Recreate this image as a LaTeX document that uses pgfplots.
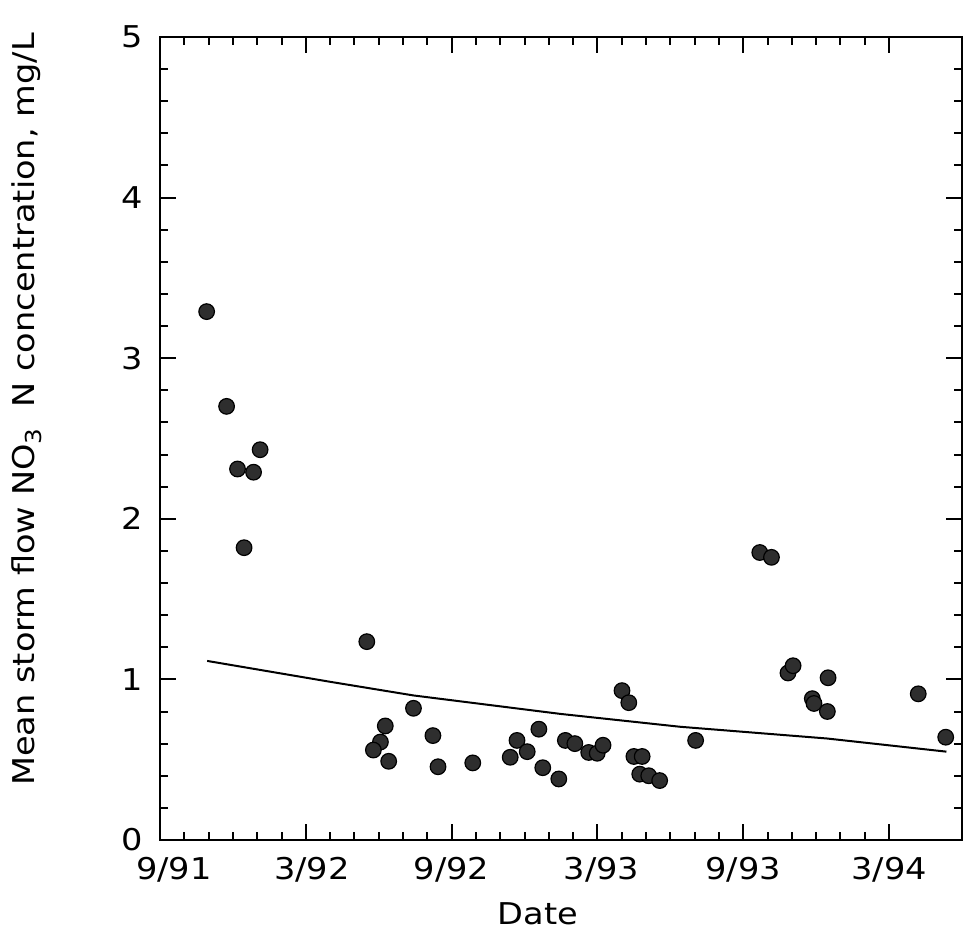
\documentclass[border=0pt]{standalone}
\usepackage{fontspec}
\setmainfont{DejaVu Sans}[FakeStretch=1.12]
\usepackage{pgfplots}
\pgfplotsset{compat=1.18}

\newcommand{\lblfont}{\fontsize{15}{18}\selectfont}

\begin{document}
\begin{tikzpicture}
\begin{axis}[
    name=ax,
    scale only axis,
    width=401pt, height=401.5pt,
    xmin=0, xmax=33,
    ymin=0, ymax=5,
    axis line style={line width=1.1pt},
    xtick={0,6,12,18,24,30},
    xticklabels={\hspace*{14pt}9/91,\hspace*{6pt}3/92,9/92,\hspace*{4pt}3/93,9/93,3/94},
    minor x tick num=5,
    ytick={0,1,2,3,4,5},
    minor y tick num=4,
    tick align=inside,
    major tick length=8pt,
    minor tick length=4pt,
    every tick/.style={line width=1pt, black},
    /pgf/number format/assume math mode=true,
    tick label style={font=\lblfont},
    yticklabel style={xshift=-5pt},
    xticklabel style={yshift=-5pt},
    xlabel={Date},
    xlabel style={font=\lblfont, at={(axis description cs:0.471,-0.092)}, anchor=center},
    ylabel={Mean storm flow NO\raisebox{-0.45ex}{\fontsize{11}{11}\selectfont 3}\ \ N concentration, mg/L},
    ylabel style={font=\lblfont, at={(axis description cs:-0.166,0.536)}, anchor=center},
    clip=false,
]
% fitted trend line
\addplot[line width=1pt, black] coordinates {
    (1.94,1.115) (7.00,0.985) (10.43,0.900) (16.48,0.785)
    (21.40,0.705) (27.44,0.632) (32.36,0.550)
};
% storm flow observations
\addplot[only marks, mark=*, mark size=3.9pt,
         mark options={fill=black!82, draw=black, line width=0.6pt}]
    coordinates {
    (1.92,3.29) (2.74,2.70) (3.19,2.31) (3.85,2.29) (4.12,2.43) (3.46,1.82)
    (8.51,1.235) (10.43,0.82) (9.27,0.71) (9.07,0.61) (8.78,0.56) (9.41,0.49)
    (11.23,0.65) (11.44,0.456) (12.87,0.48) (14.41,0.515) (14.69,0.62)
    (15.11,0.55) (15.59,0.69) (15.75,0.45) (16.41,0.38) (16.68,0.62)
    (17.07,0.60) (17.64,0.545) (17.99,0.54) (18.23,0.59) (19.01,0.93)
    (19.29,0.855) (19.50,0.52) (19.84,0.52) (19.74,0.41) (20.11,0.40)
    (20.56,0.37) (22.04,0.62) (24.68,1.79) (25.16,1.76) (25.84,1.04)
    (26.05,1.085) (26.84,0.88) (26.91,0.85) (27.46,0.80) (27.49,1.01)
    (31.20,0.91) (32.33,0.64)
};
\end{axis}
\pgfresetboundingbox
\path[use as bounding box] ([shift={(-80pt,-47pt)}]ax.south west) rectangle ([shift={(1.5pt,18.5pt)}]ax.north east);
\end{tikzpicture}
\end{document}
